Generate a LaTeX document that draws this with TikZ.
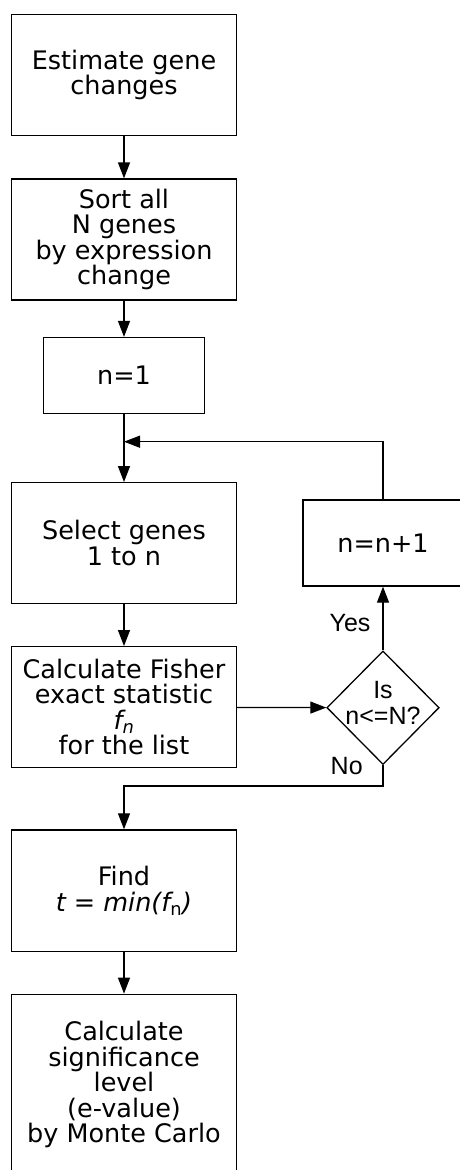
\documentclass[tikz,border=0pt]{standalone}
\usepackage{fontspec}
\setmainfont{DejaVu Sans}
\newfontfamily\arialfont{Liberation Sans}
\usetikzlibrary{shapes.geometric,arrows.meta}
\begin{document}
\begin{tikzpicture}[x=1pt,y=-1pt,
  every node/.style={inner sep=0pt},
  box/.style={draw, line width=1.3pt, align=center, font=\fontsize{25.5}{25.5}\selectfont, minimum width=225pt},
  lab/.style={font=\arialfont\fontsize{25}{25.7}\selectfont, align=center},
  conn/.style={line width=1.3pt, -{Triangle[length=16pt,width=12pt]}},
  plain/.style={line width=1.3pt}]
\useasboundingbox (0,0) rectangle (460,1170);
\node[box, minimum height=121pt] (b1) at (124,75) {Estimate gene\\changes};
\node[box, minimum height=121pt] (b2) at (124,239.5) {Sort all\\N genes\\by expression\\change};
\node[box, minimum width=161pt, minimum height=76pt] (b3) at (124,375.5) {n=1};
\coordinate (m) at (124,441.7);
\node[box, minimum height=120.6pt] (b4) at (124,543) {Select genes\\1 to n};
\node[box, minimum height=121pt] (b5) at (124,707.2) {Calculate Fisher\\exact statistic\\{\itshape f}\textsubscript{\itshape n}\\for the list};
\node[box, minimum height=121.7pt] (b6) at (124,890.8) {Find\\{\itshape t} = {\itshape min(f}\textsubscript{n}{\itshape )}};
\node[box, minimum height=180.7pt] (b7) at (124,1084.6) {Calculate\\significance\\level\\(e-value)\\by Monte Carlo};
\node[box, minimum width=160pt, minimum height=86pt] (n1) at (383,543) {n=n+1};
\node[diamond, draw, line width=1.3pt, minimum width=112.3pt, minimum height=113.6pt] (d) at (383,707.7) {};
\node[lab] (dt) at (383,703) {Is\\n<=N?};
\node[lab] (yes) at (350,623.5) {Yes};
\node[lab] (no) at (346.7,766) {No};
\coordinate (c1) at (383,786);
\coordinate (c2) at (124,786);
\draw[conn] (b1) -- (b2);
\draw[conn] (b2) -- (b3);
\draw[conn] (b3) -- (b4);
\draw[conn] (b4) -- (b5);
\draw[conn] (b5) -- (d);
\draw[conn] (d) -- (n1);
\draw[conn] (n1.north) |- (m);
\draw[conn] (d.south) -- (c1) -- (c2) -- (b6);
\draw[conn] (b6) -- (b7);
\end{tikzpicture}
\end{document}
